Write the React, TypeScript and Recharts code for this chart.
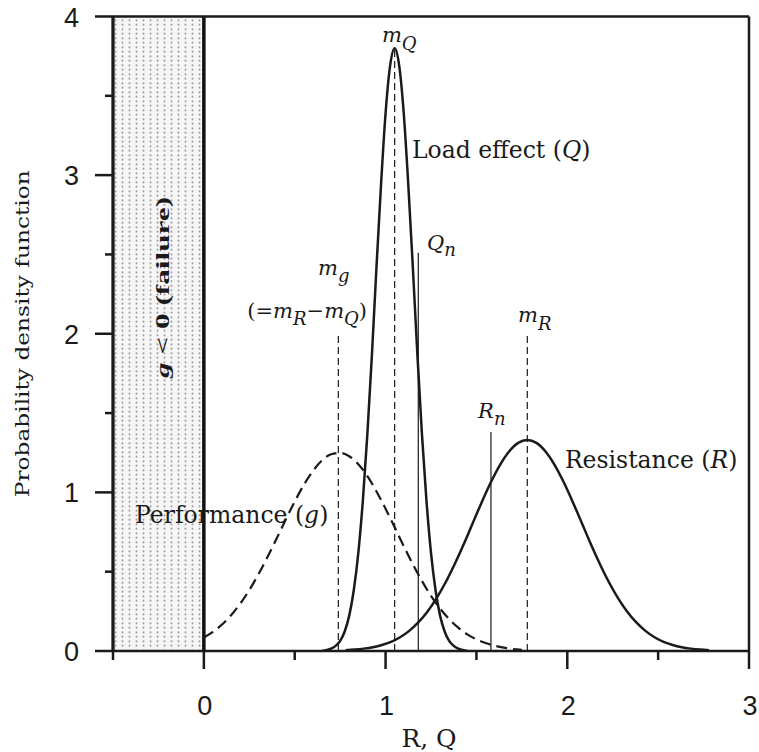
import React from 'react';
import { ComposedChart, Line, XAxis, YAxis, ReferenceLine, ReferenceArea, ReferenceDot } from 'recharts';

// Load effect Q
const qX = [0.65,0.675,0.7,0.725,0.75,0.775,0.8,0.825,0.85,0.875,0.9,0.925,0.95,0.975,1.0,1.025,1.05,1.075,1.1,1.125,1.15,1.175,1.2,1.225,1.25,1.275,1.3,1.325,1.35,1.375,1.4,1.425,1.45];
const qY = [0,0.006,0.015,0.032,0.064,0.123,0.223,0.383,0.619,0.948,1.37,1.87,2.42,2.94,3.39,3.69,3.8,3.69,3.39,2.94,2.42,1.87,1.37,0.948,0.619,0.383,0.223,0.123,0.064,0.032,0.015,0.006,0];

// Resistance R
const rX = [0.78,0.83,0.88,0.93,0.98,1.03,1.08,1.13,1.18,1.23,1.28,1.33,1.38,1.43,1.48,1.53,1.58,1.63,1.68,1.73,1.78,1.83,1.88,1.93,1.98,2.03,2.08,2.13,2.18,2.23,2.28,2.33,2.38,2.43,2.48,2.53,2.58,2.63,2.68,2.73,2.78];
const rY = [0.005,0.009,0.015,0.024,0.038,0.058,0.087,0.127,0.18,0.248,0.332,0.432,0.547,0.673,0.807,0.94,1.065,1.174,1.258,1.312,1.33,1.312,1.258,1.174,1.065,0.94,0.807,0.673,0.547,0.432,0.332,0.248,0.18,0.127,0.087,0.058,0.038,0.024,0.015,0.009,0.005];

// Performance g
const gX = [0,0.05,0.1,0.15,0.2,0.25,0.3,0.35,0.4,0.45,0.5,0.55,0.6,0.65,0.7,0.75,0.8,0.85,0.9,0.95,1.0,1.05,1.1,1.15,1.2,1.25,1.3,1.35,1.4,1.45,1.5,1.55,1.6,1.65,1.7,1.75];
const gY = [0.085,0.12,0.167,0.226,0.298,0.384,0.483,0.592,0.708,0.827,0.942,1.047,1.135,1.201,1.24,1.249,1.228,1.178,1.102,1.006,0.897,0.78,0.661,0.547,0.442,0.348,0.268,0.201,0.147,0.105,0.073,0.05,0.033,0.021,0.013,0.008];

// marker lines: position and height
const markerNames = ['mg', 'mQ', 'Qn', 'Rn', 'mR'];
const markerX = [0.74, 1.05, 1.18, 1.58, 1.78];
const markerTop = [2.0, 3.8, 2.51, 1.38, 2.0];
const markerDashed = [true, true, false, false, true];

const X_TICKS = [-0.5, 0, 0.5, 1, 1.5, 2, 2.5, 3];
const Y_TICKS = [0, 0.5, 1, 1.5, 2, 2.5, 3, 3.5, 4];

const qData = qX.map((x, i) => ({ x, y: qY[i] }));
const rData = rX.map((x, i) => ({ x, y: rY[i] }));
const gData = gX.map((x, i) => ({ x, y: gY[i] }));

const INK = '#1a1a1a';
const SERIF = "'DejaVu Serif', serif";
const SANS = "'Liberation Sans', Arial, sans-serif";

const XTick = (props: any) => {
  const { x, y, payload } = props;
  const major = Number.isInteger(payload.value);
  return (
    <g>
      <line x1={x} y1={y} x2={x} y2={y + (major ? 18 : 9)} stroke={INK} strokeWidth={2.5} />
      {major && (
        <text x={x + 1} y={y + 64} textAnchor="middle" fontFamily={SANS} fontSize={27} fill={INK}>
          {payload.value}
        </text>
      )}
    </g>
  );
};

const YTick = (props: any) => {
  const { x, y, payload } = props;
  const major = Number.isInteger(payload.value);
  return (
    <g>
      <line x1={x - (major ? 18 : 8)} y1={y} x2={x} y2={y} stroke={INK} strokeWidth={2.5} />
      {major && (
        <text x={x - 34} y={y + 10} textAnchor="end" fontFamily={SANS} fontSize={27} fill={INK}>
          {payload.value}
        </text>
      )}
    </g>
  );
};

const FailureShape = (p: any) => {
  const { x, y, width, height } = p;
  return (
    <g>
      <rect x={x + 1.5} y={y + 1.5} width={width - 3} height={height - 3} fill="url(#dots)" />
      <rect x={x + width - 1.75} y={y} width={3.5} height={height} fill="#111" />
      <rect x={x - 1.5} y={y} width={3} height={height} fill="#111" />
    </g>
  );
};

const annot = (key: string, x: number, y: number, node: (cx: number, cy: number) => any) => (
  <ReferenceDot
    key={key}
    x={x}
    y={y}
    r={1}
    fill="none"
    stroke="none"
    ifOverflow="visible"
    label={{
      content: (p: any) => {
        const vb = p.viewBox || {};
        const cx = (vb.x || 0) + (vb.width || 0) / 2;
        const cy = (vb.y || 0) + (vb.height || 0) / 2;
        return node(cx, cy);
      },
    }}
  />
);

const MAIN = 23.5;
const MI = 21;
const SUB = 18;

export default function App() {
  return (
    <div style={{ position: 'absolute', left: 0, top: 0, width: 759, height: 752, background: '#fff' }}>
      <svg width={0} height={0} style={{ position: 'absolute' }}>
        <defs>
          <pattern id="dots" x={0} y={0} width={7} height={4.5} patternUnits="userSpaceOnUse">
            <rect x={0} y={0} width={7} height={4.5} fill="#f6f6f6" />
            <circle cx={3.5} cy={2.25} r={1} fill="#8a8a8a" />
          </pattern>
        </defs>
      </svg>
      <ComposedChart width={759} height={752} margin={{ top: 16.5, right: 10, left: 0, bottom: 0 }}>
        <XAxis
          type="number"
          dataKey="x"
          domain={[-0.5, 3]}
          ticks={X_TICKS}
          allowDataOverflow
          height={101}
          tickSize={0}
          tickMargin={0}
          tick={<XTick />}
          axisLine={{ stroke: INK, strokeWidth: 2.5 }}
          label={{
            content: (p: any) => {
              const vb = p.viewBox || {};
              return (
                <text x={vb.x + 316} y={vb.y + 96} textAnchor="middle" fontFamily={SERIF} fontSize={25} fill={INK}>
                  R, Q
                </text>
              );
            },
          }}
        />
        <YAxis
          type="number"
          dataKey="y"
          domain={[0, 4]}
          ticks={Y_TICKS}
          allowDataOverflow
          width={113}
          tickSize={0}
          tickMargin={0}
          tick={<YTick />}
          axisLine={{ stroke: INK, strokeWidth: 2.5 }}
          label={{
            content: (p: any) => {
              const vb = p.viewBox || {};
              const cx = vb.x + 29;
              const cy = vb.y + vb.height / 2;
              return (
                <text
                  x={cx}
                  y={cy}
                  transform={`rotate(-90, ${cx}, ${cy})`}
                  textAnchor="middle"
                  fontFamily={SERIF}
                  fontSize={18.5}
                  textLength={327}
                  lengthAdjust="spacingAndGlyphs"
                  fill={INK}
                >
                  Probability density function
                </text>
              );
            },
          }}
        />
        <ReferenceArea
          x1={-0.5}
          x2={0}
          y1={0}
          y2={4}
          ifOverflow="visible"
          shape={<FailureShape />}
        />
        <ReferenceLine y={4} stroke={INK} strokeWidth={2.5} ifOverflow="visible" />
        <ReferenceLine x={3} stroke={INK} strokeWidth={2.5} ifOverflow="visible" />
        {markerNames.map((n, i) => (
          <ReferenceLine
            key={n}
            segment={[{ x: markerX[i], y: 0 }, { x: markerX[i], y: markerTop[i] }]}
            stroke={INK}
            strokeWidth={1.2}
            strokeDasharray={markerDashed[i] ? '7 4' : undefined}
            ifOverflow="visible"
          />
        ))}
        <Line data={gData} dataKey="y" type="monotone" stroke={INK} strokeWidth={2.2} strokeDasharray="11 6" dot={false} activeDot={false} isAnimationActive={false} />
        <Line data={qData} dataKey="y" type="monotone" stroke={INK} strokeWidth={2.5} dot={false} activeDot={false} isAnimationActive={false} />
        <Line data={rData} dataKey="y" type="monotone" stroke={INK} strokeWidth={2.5} dot={false} activeDot={false} isAnimationActive={false} />

        {annot('fail', -0.19, 2.292, (cx, cy) => (
          <text
            x={cx}
            y={cy}
            transform={`rotate(-90, ${cx}, ${cy})`}
            textAnchor="middle"
            fontFamily="'Liberation Serif', 'Times New Roman', serif"
            fontWeight="bold"
            fontSize={18}
            textLength={181}
            lengthAdjust="spacingAndGlyphs"
            fill={INK}
          >
            <tspan fontStyle="italic">g</tspan> &lt; 0 (failure)
          </text>
        ))}
        {annot('mQ', 0.98, 3.839, (cx, cy) => (
          <text x={cx} y={cy} fontFamily={SERIF} fontStyle="italic" fontSize={MI} fill={INK}>
            m<tspan dy={8} fontSize={SUB}>Q</tspan>
          </text>
        ))}
        {annot('load', 1.145, 3.108, (cx, cy) => (
          <text x={cx} y={cy} fontFamily={SERIF} fontSize={MAIN} fill={INK}>
            Load effect (<tspan fontStyle="italic">Q</tspan>)
          </text>
        ))}
        {annot('Qn', 1.228, 2.528, (cx, cy) => (
          <text x={cx} y={cy} fontFamily={SERIF} fontStyle="italic" fontSize={MI} fill={INK}>
            Q<tspan dy={6} fontSize={SUB}>n</tspan>
          </text>
        ))}
        {annot('mg', 0.628, 2.37, (cx, cy) => (
          <text x={cx} y={cy} fontFamily={SERIF} fontStyle="italic" fontSize={MI} fill={INK}>
            m<tspan dy={7} fontSize={SUB}>g</tspan>
          </text>
        ))}
        {annot('diff', 0.898, 2.099, (cx, cy) => (
          <text x={cx} y={cy} textAnchor="end" fontFamily={SERIF} fontSize={MI} fill={INK}>
            (=<tspan fontStyle="italic">m</tspan>
            <tspan dy={7} fontSize={SUB} fontStyle="italic">R</tspan>
            <tspan dy={-7}>−</tspan>
            <tspan fontStyle="italic">m</tspan>
            <tspan dy={7} fontSize={SUB} fontStyle="italic">Q</tspan>
            <tspan dy={-7}>)</tspan>
          </text>
        ))}
        {annot('mR', 1.729, 2.074, (cx, cy) => (
          <text x={cx} y={cy} fontFamily={SERIF} fontStyle="italic" fontSize={MI} fill={INK}>
            m<tspan dy={8} fontSize={SUB}>R</tspan>
          </text>
        ))}
        {annot('Rn', 1.509, 1.469, (cx, cy) => (
          <text x={cx} y={cy} fontFamily={SERIF} fontStyle="italic" fontSize={MI} fill={INK}>
            R<tspan dy={7} fontSize={SUB}>n</tspan>
          </text>
        ))}
        {annot('res', 1.987, 1.154, (cx, cy) => (
          <text x={cx} y={cy} fontFamily={SERIF} fontSize={MAIN} fill={INK}>
            Resistance (<tspan fontStyle="italic">R</tspan>)
          </text>
        ))}
        {annot('perf', -0.379, 0.807, (cx, cy) => (
          <text x={cx} y={cy} fontFamily={SERIF} fontSize={MAIN} fill={INK}>
            Performance (<tspan fontStyle="italic">g</tspan>)
          </text>
        ))}
      </ComposedChart>
    </div>
  );
}
